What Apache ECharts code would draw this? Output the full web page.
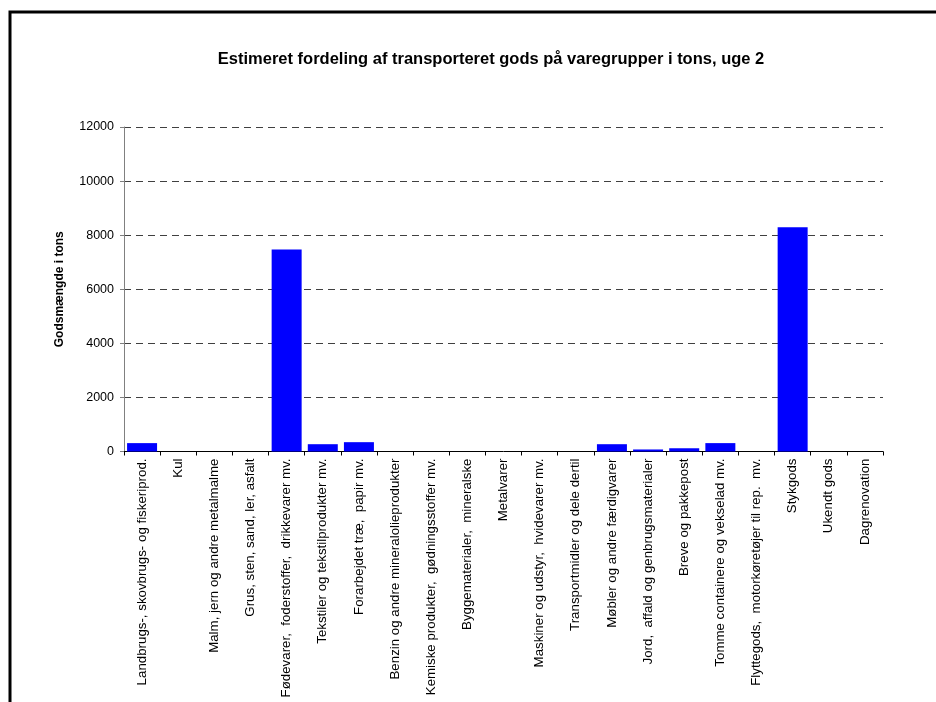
<!DOCTYPE html>
<html>
<head>
<meta charset="utf-8">
<script src="https://cdn.jsdelivr.net/npm/echarts@6/dist/echarts.min.js"></script>
<style>
  html, body { margin: 0; padding: 0; background: #fff; }
  #chart { width: 936px; height: 702px; }
</style>
</head>
<body>
<div id="chart"></div>
<script>
// Varegrupper (categories) and estimated tonnage, week 2
const categories = [
  'Landbrugs-, skovbrugs- og fiskeriprod.',
  'Kul',
  'Malm, jern og andre metalmalme',
  'Grus, sten, sand, ler, asfalt',
  'Fødevarer,  foderstoffer,  drikkevarer mv.',
  'Tekstiler og tekstilprodukter mv.',
  'Forarbejdet træ,  papir mv.',
  'Benzin og andre mineralolieprodukter',
  'Kemiske produkter,  gødningsstoffer mv.',
  'Byggematerialer,  mineralske',
  'Metalvarer',
  'Maskiner og udstyr,  hvidevarer mv.',
  'Transportmidler og dele dertil',
  'Møbler og andre færdigvarer',
  'Jord,  affald og genbrugsmaterialer',
  'Breve og pakkepost',
  'Tomme containere og vekselad mv.',
  'Flyttegods,  motorkøretøjer til rep.  mv.',
  'Stykgods',
  'Ukendt gods',
  'Dagrenovation'
];
const tons = [310, 0, 0, 0, 7470, 270, 345, 0, 0, 0, 0, 0, 0, 270, 75, 120, 310, 0, 8290, 0, 0];
const yTicks = { min: 0, max: 12000, interval: 2000 };
const titleText = 'Estimeret fordeling af transporteret gods på varegrupper i tons, uge 2';

const FONT = 'Liberation Sans, Arial, sans-serif';
const chart = echarts.init(document.getElementById('chart'));
chart.setOption({
  animation: false,
  backgroundColor: '#ffffff',
  textStyle: { fontFamily: FONT },
  graphic: [
    {
      // frame around the chart area (left and top edges visible)
      type: 'polyline',
      shape: { points: [[10, 720], [10, 12], [950, 12]] },
      style: { stroke: '#000', lineWidth: 3, fill: null }
    }
  ],
  title: {
    text: titleText,
    left: 486,
    top: 46,
    textAlign: 'center',
    textStyle: { fontSize: 16.5, fontWeight: 'bold', color: '#000', fontFamily: FONT }
  },
  grid: { left: 124, right: 53, top: 127, bottom: 250.5, containLabel: false },
  xAxis: {
    type: 'category',
    data: categories,
    boundaryGap: true,
    axisLine: { lineStyle: { color: '#000', width: 1 } },
    axisTick: { show: true, length: 4, lineStyle: { color: '#000' } },
    axisLabel: {
      rotate: 90,
      interval: 0,
      margin: 7,
      fontSize: 13.3,
      color: '#000',
      fontFamily: FONT
    }
  },
  yAxis: {
    type: 'value',
    min: yTicks.min,
    max: yTicks.max,
    interval: yTicks.interval,
    name: 'Godsmængde i tons',
    nameLocation: 'middle',
    nameGap: 58,
    nameTextStyle: { fontSize: 12, fontWeight: 'bold', color: '#000', fontFamily: FONT },
    axisLine: { show: true, lineStyle: { color: '#808080', width: 1 } },
    axisTick: { show: true, length: 4, lineStyle: { color: '#808080' } },
    axisLabel: {
      fontSize: 12.5,
      color: '#000',
      margin: 10,
      fontFamily: FONT,
      formatter: (v) => String(v)
    },
    splitLine: { show: true, lineStyle: { color: '#404040', type: [7, 5], width: 1 } }
  },
  series: [{
    type: 'bar',
    data: tons,
    barCategoryGap: '17%',
    itemStyle: { color: '#0000ff' }
  }]
});
</script>
</body>
</html>
